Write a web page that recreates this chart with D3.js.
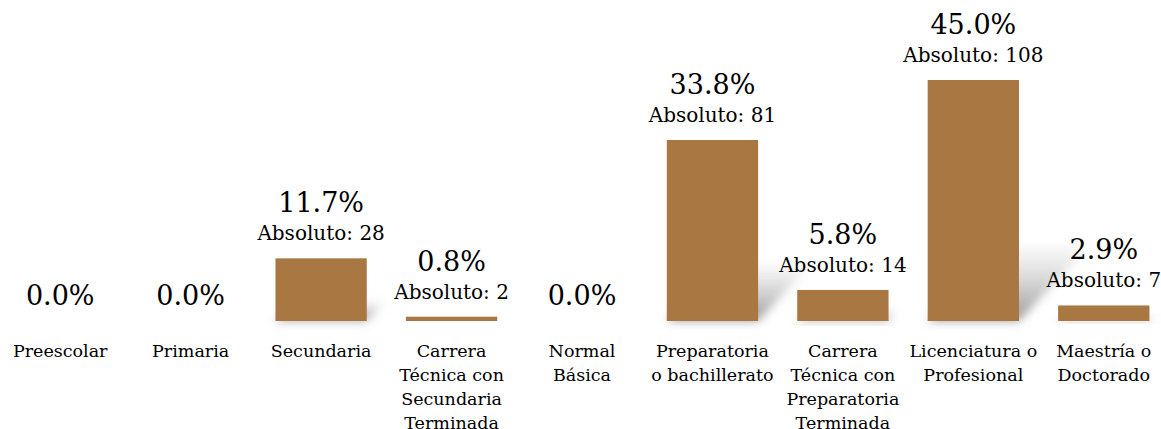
<!DOCTYPE html>
<html><head><meta charset="utf-8">
<script src="https://cdn.jsdelivr.net/npm/d3@7"></script>
<style>html,body{margin:0;padding:0;background:#fff;}svg{display:block;}</style>
</head><body>
<svg id="c" width="1161" height="429"></svg>
<script>
const categories = [
  ["Preescolar"],
  ["Primaria"],
  ["Secundaria"],
  ["Carrera", "Técnica con", "Secundaria", "Terminada"],
  ["Normal", "Básica"],
  ["Preparatoria", "o bachillerato"],
  ["Carrera", "Técnica con", "Preparatoria", "Terminada"],
  ["Licenciatura o", "Profesional"],
  ["Maestría o", "Doctorado"]
];
const percents = [0.0, 0.0, 11.7, 0.8, 0.0, 33.8, 5.8, 45.0, 2.9];
const absolutes = [0, 0, 28, 2, 0, 81, 14, 108, 7];

const W = 1161, H = 429, base = 321;
const font = "'DejaVu Serif', serif";
const svg = d3.select("#c");

const x = d3.scaleBand().domain(d3.range(categories.length)).range([-5, 1169]).paddingInner(0.3).paddingOuter(0.15);
const y = d3.scaleLinear().domain([0, 45]).range([base, 80]);

const defs = svg.append("defs");
const f = defs.append("filter").attr("id", "blur").attr("x", "-50%").attr("y", "-50%").attr("width", "200%").attr("height", "200%");
f.append("feGaussianBlur").attr("stdDeviation", 5);
const g = defs.append("linearGradient").attr("id", "sg").attr("x1", 0).attr("y1", 1).attr("x2", 0).attr("y2", 0);
g.append("stop").attr("offset", 0).attr("stop-color", "#8c8c8c").attr("stop-opacity", 0.9);
g.append("stop").attr("offset", 1).attr("stop-color", "#bbbbbb").attr("stop-opacity", 0.05);

// shadows
svg.append("g").selectAll("path").data(percents.map((v, i) => ({v, i})).filter(d => d.v > 0)).join("path")
  .attr("filter", "url(#blur)")
  .attr("fill", "url(#sg)")
  .attr("d", d => {
    const x0 = x(d.i), x1 = x(d.i) + x.bandwidth();
    const h = base - y(d.v);
    const dx = 0.3 * h, dy = 0.32 * h;
    return `M${x0},${base}L${x1},${base}L${x1 + dx},${base - dy}L${x0 + dx},${base - dy}Z`;
  });

// bars
svg.append("g").selectAll("rect").data(percents).join("rect")
  .attr("x", (d, i) => x(i))
  .attr("width", x.bandwidth())
  .attr("y", d => y(d))
  .attr("height", d => base - y(d))
  .attr("fill", "#a97742");

// value labels
const lab = svg.append("g").attr("font-family", font).attr("fill", "#000").attr("text-anchor", "middle");
percents.forEach((v, i) => {
  const cx = x(i) + x.bandwidth() / 2;
  if (v > 0) {
    lab.append("text").attr("x", cx).attr("y", y(v) - 46).attr("font-size", 27).text(v.toFixed(1) + "%");
    lab.append("text").attr("x", cx).attr("y", y(v) - 18).attr("font-size", 20).text("Absoluto: " + absolutes[i]);
  } else {
    lab.append("text").attr("x", cx).attr("y", base - 16).attr("font-size", 27).text(v.toFixed(1) + "%");
  }
});

// category axis labels
const ax = svg.append("g").attr("font-family", font).attr("font-size", 17.5).attr("text-anchor", "middle").attr("fill", "#000");
categories.forEach((lines, i) => {
  const cx = x(i) + x.bandwidth() / 2;
  const t = ax.append("text").attr("x", cx).attr("y", 357);
  lines.forEach((l, k) => t.append("tspan").attr("x", cx).attr("dy", k === 0 ? 0 : 24).text(l));
});
</script>
</body></html>
